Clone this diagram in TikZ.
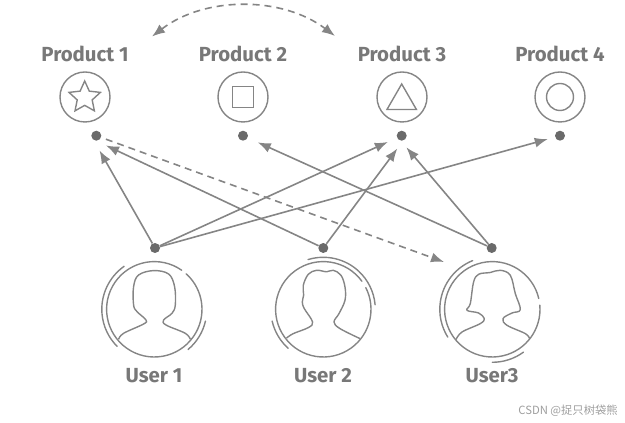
\documentclass[tikz,border=0pt]{standalone}
\usepackage{fontspec}
\setmainfont{Fira Sans}
\newfontfamily\cjk{Noto Sans CJK SC}
\usetikzlibrary{arrows.meta,shapes.geometric}
\definecolor{ln}{HTML}{858585}
\definecolor{dk}{HTML}{6A6A6A}
\definecolor{tx}{HTML}{787878}

\begin{document}
\begin{tikzpicture}[
    x=1pt, y=1pt,
    font=\fontsize{20.4}{24}\selectfont\bfseries,
    prod/.style={draw=ln, circle, line width=1.4pt, minimum size=50pt, inner sep=0pt},
    icon/.style={draw=ln, line width=1.4pt, inner sep=0pt},
    dot/.style={circle, fill=dk, minimum size=10pt, inner sep=0pt},
    lb/.style={text=tx, inner sep=0pt},
    tip/.style={-{Latex[length=13pt,width=10pt]}},
    fl/.style={tip, draw=ln, line width=1.6pt},
    dfl/.style={draw=ln, line width=1.6pt, dash pattern=on 7pt off 5pt},
    ring/.style={draw=ln, line width=1.4pt, line cap=round},
    sil/.style={draw=ln, line width=1.4pt, line join=round, smooth, tension=0.6},
]
    \useasboundingbox (0,0) rectangle (625,423);
    % products
    \node[prod] (p1) at (85,326) {};
    \node[prod] (p2) at (243,326) {};
    \node[prod] (p3) at (402,326) {};
    \node[prod] (p4) at (560,326) {};
    \node[icon, star, star points=5, star point ratio=2.1, minimum size=33pt] (s1) at (84.7,325.5) {};
    \node[icon, minimum size=21pt] (s2) at (243,326) {};
    \node[icon, regular polygon, regular polygon sides=3, minimum size=34pt] (s3) at (401.7,322) {};
    \node[icon, circle, minimum size=27pt] (s4) at (560,326) {};
    \node[lb] (t1) at (85,369) {Product 1};
    \node[lb] (t2) at (243,369) {Product 2};
    \node[lb] (t3) at (402,369) {Product 3};
    \node[lb] (t4) at (560,369) {Product 4};
    \node[dot] (d1) at (96.3,287.3) {};
    \node[dot] (d2) at (243,287.3) {};
    \node[dot] (d3) at (401.7,287.3) {};
    \node[dot] (d4) at (560,287.3) {};
    % users
    \node[dot] (u1) at (155,175) {};
    \node[dot] (u2) at (323.3,175) {};
    \node[dot] (u3) at (491.7,175) {};
    \node[lb] (n1) at (154,47) {User 1};
    \node[lb] (n2) at (323,47) {User 2};
    \node[lb] (n3) at (492,47) {User3};
    \begin{scope}[shift={(154.3,113.7)}]
        \draw[ring] (55:47.7) arc[start angle=55, end angle=408, radius=47.7];
        \draw[ring] (125:52.5) arc[start angle=125, end angle=225, radius=52.5];
        \draw[ring] (-50:52.5) arc[start angle=-50, end angle=-13, radius=52.5];
        \draw[sil] plot coordinates {(-35.7,-30) (-30.7,-24) (-10.7,-14.7) (-8.3,-10.7) (-17.3,-2.3) (-20.7,4.3) (-20.7,22.7) (-15.7,34.3) (-0.7,38.7) (14.3,35.3) (20.3,22.7) (21,4.3) (17.7,-4) (9.3,-10.7) (11.7,-15.7) (31,-24) (36,-30)};
    \end{scope}
    \begin{scope}[shift={(323.3,113.7)}]
        \draw[ring] (36:47.7) arc[start angle=36, end angle=387, radius=47.7];
        \draw[ring] (107:52) arc[start angle=107, end angle=5, radius=52];
        \draw[ring] (193:52.5) arc[start angle=193, end angle=228, radius=52.5];
        \draw[sil] plot coordinates {(-36.7,-28.7) (-30,-24.3) (-15,-18.3) (-10.7,-12.7) (-19,0.7) (-21,7.3) (-19.7,14) (-20,24) (-15,35) (-6.7,39) (3.3,37.5) (10,39) (17.7,34) (21.7,22.3) (21.7,9) (15.7,-4.3) (10.7,-12.7) (16.7,-19.3) (36.7,-29.3)};
    \end{scope}
    \begin{scope}[shift={(492.3,113.7)}]
        \draw[ring] (13:47.7) arc[start angle=13, end angle=365, radius=47.7];
        \draw[ring] (112:52.5) arc[start angle=112, end angle=212, radius=52.5];
        \draw[ring] (-54:53) arc[start angle=-54, end angle=-90, radius=53];
        \draw[sil] plot coordinates {(-36.3,-30.3) (-30.3,-22.7) (-12,-14.3) (-8,-9.3) (-13.7,-3.7) (-25.3,-1) (-22,5.7) (-18.7,27.3) (-13.7,35) (-2,36.8) (8,39) (18,34) (23,15.7) (28,-0.3) (19.7,-3.7) (10.7,-9.3) (14.7,-16) (33,-24.3) (37.3,-29.3)};
    \end{scope}
    % links
    \draw[fl, shorten >=17pt] (u1) -- (d1.west);
    \draw[fl, shorten >=10pt] (u1) -- (d3);
    \draw[fl, shorten >=7.5pt] (u1) -- (d4);
    \draw[fl, shorten >=10.7pt] (u2) -- (d1.south);
    \draw[fl, shorten >=16pt] (u2) -- (d3.east);
    \draw[fl, shorten >=11pt] (u3) -- (d2);
    \draw[fl, shorten >=15.3pt] (u3) -- (d3.west);
    \coordinate (e3) at (444,161);
    \draw[dfl, tip, shorten <=5pt] (d1) -- (e3);
    \coordinate (al) at (152,386.5);
    \coordinate (ar) at (335,387);
    \draw[dfl, {Latex[length=13pt,width=10pt]}-{Latex[length=13pt,width=10pt]}] (al) .. controls (205,427) and (282,427) .. (ar);
    \node[text=black!38, inner sep=0pt, font=\fontsize{11.3}{13}\selectfont\cjk] (wm) at (568,12) {CSDN @捉只树袋熊};
\end{tikzpicture}
\end{document}
